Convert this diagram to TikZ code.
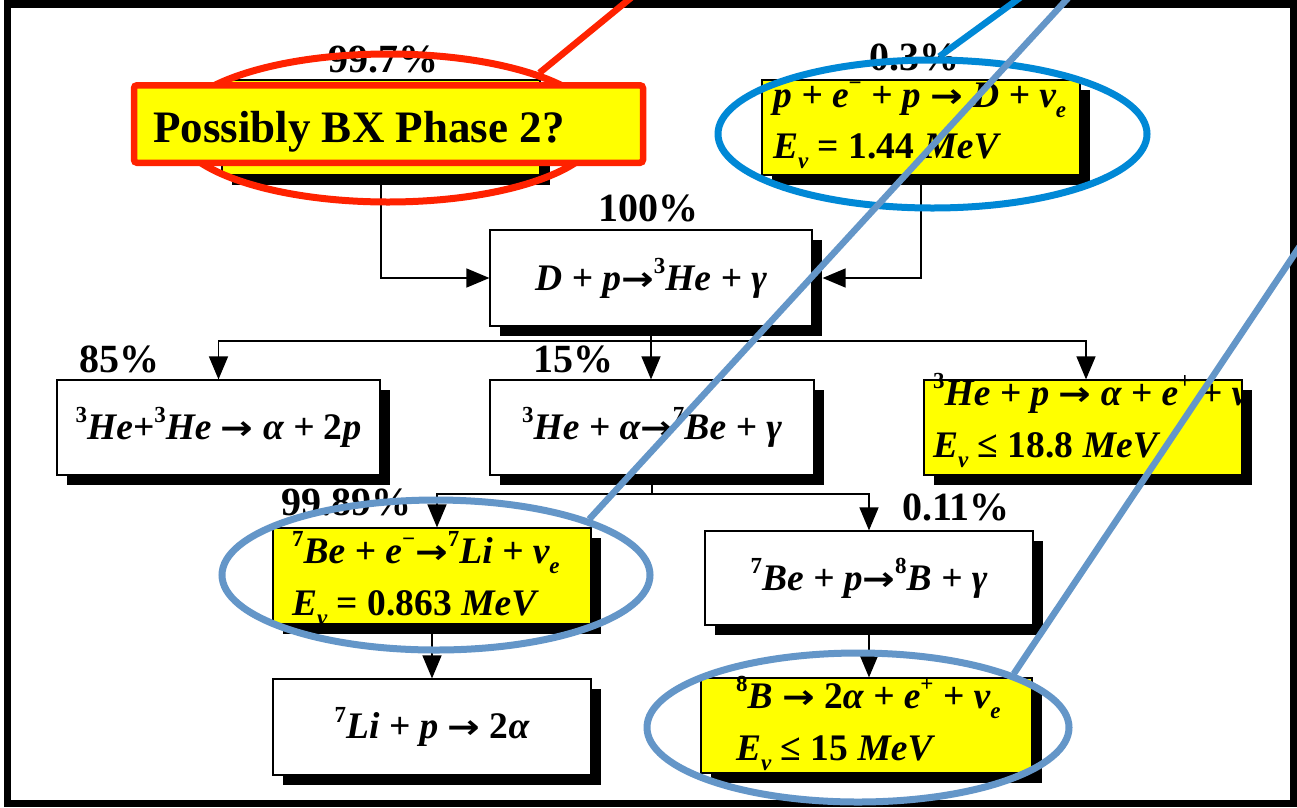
\documentclass[tikz,border=0pt]{standalone}
\usepackage{fontspec}
\setmainfont{Liberation Serif}
\newfontfamily\arrf{DejaVu Sans}
\usetikzlibrary{arrows.meta,shadows,shapes.geometric}
\definecolor{bxred}{RGB}{255,34,0}
\definecolor{bxblue}{RGB}{0,136,214}
\definecolor{bxlight}{RGB}{100,150,200}
\definecolor{bxyellow}{RGB}{255,255,0}
\newcommand{\eqf}{\fontsize{37.5}{42}\selectfont\bfseries\itshape}
\newcommand{\pctf}{\fontsize{40}{44}\selectfont\bfseries}
\newcommand{\lblf}{\fontsize{45}{50}\selectfont\bfseries}
\newcommand{\myup}[1]{\raisebox{0.45em}{\fontsize{23}{23}\selectfont\bfseries\upshape #1}}
\newcommand{\mydn}[1]{\raisebox{-0.28em}{\fontsize{23}{23}\selectfont\bfseries\itshape #1}}
\newcommand{\rarr}{{\arrf\bfseries\upshape\fontsize{39}{39}\selectfont\scalebox{1}[0.85]{→}}}
\begin{document}
\begin{tikzpicture}[x=1pt,y=-1pt,
  bx/.style={draw=black, line width=1.2pt, inner sep=0pt, font=\eqf,
     drop shadow={shadow xshift=10pt, shadow yshift=-10pt, fill=black, opacity=1}},
  wbox/.style={bx, fill=white},
  ybox/.style={bx, fill=bxyellow},
  pct/.style={font=\pctf, inner sep=0pt, anchor=base},
  eqt/.style={font=\eqf, inner sep=0pt, anchor=base west},
  conn/.style={line width=1.4pt, draw=black},
  arr/.style={conn, -{Triangle[length=23pt,width=19pt]}},
  ring/.style={draw, ellipse, line width=7pt, inner sep=0pt},
  pointer/.style={line width=6.5pt}
]
\useasboundingbox (0,0) rectangle (1297,807);
\fill[white] (0,0) rectangle (1297,807);
\draw[line width=7.5pt] (7.5,4) rectangle (1293.5,803.5);

% boxes
\node[ybox, minimum width=318pt, minimum height=95pt] (A) at (381,127.5) {};
\node[ybox, minimum width=318pt, minimum height=95pt] (B) at (921,127.5) {};
\node[wbox, minimum width=322pt, minimum height=96pt] (DP) at (651,278) {D + p\rarr\myup{3}He + γ};
\node[wbox, minimum width=323pt, minimum height=95pt] (HH) at (218.5,427.5) {\myup{3}He+\myup{3}He \rarr\ α + \textup{2}p};
\node[wbox, minimum width=324pt, minimum height=95pt] (HA) at (652,427.5) {\myup{3}He + α\rarr\myup{7}Be + γ};
\node[ybox, minimum width=318pt, minimum height=95pt] (HP) at (1083,427.5) {};
\node[ybox, minimum width=318pt, minimum height=96pt] (BE) at (432,576) {};
\node[wbox, minimum width=318pt, minimum height=96pt] (LI) at (432,727) {\myup{7}Li + p \rarr\ \textup{2}α};
\node[wbox, minimum width=328pt, minimum height=94pt] (BP) at (869,578) {\myup{7}Be + p\rarr\myup{8}B + γ};
\node[ybox, minimum width=331pt, minimum height=95pt] (B8) at (866.5,725.5) {};

% texts in yellow boxes
\node[eqt] (Bt1) at (773,107) {p + e\myup{−} + p \rarr\ D + ν\mydn{e}};
\node[eqt] (Bt2) at (773,158) {E\mydn{ν} \textup{= 1.44} MeV};
\begin{scope}
\clip ([yshift=20pt]HP.north west) rectangle (HP.south east);
\node[eqt] (HPt1) at (933,405) {\myup{3}He + p \rarr\ α + e\myup{+} + ν\mydn{e}};
\end{scope}
\node[eqt] (HPt2) at (933,457) {E\mydn{ν} \textup{≤ 18.8} MeV};
\node[eqt] (BEt1) at (292,563) {\myup{7}Be + e\myup{−}\rarr\myup{7}Li + ν\mydn{e}};
\node[eqt] (BEt2) at (292,615) {E\mydn{ν} \textup{= 0.863} MeV};
\node[eqt] (B8t1) at (736,708) {\myup{8}B \rarr\ \textup{2}α + e\myup{+} + ν\mydn{e}};
\node[eqt] (B8t2) at (736,760) {E\mydn{ν} \textup{≤ 15} MeV};

% connectors
\draw[arr] (A.south) |- (DP.west);
\draw[arr] (B.south) |- ([xshift=10pt]DP.east);
\coordinate (j1) at (651,341);
\draw[conn] (DP.south) -- (j1);
\draw[arr] (j1) -| (HH.north);
\draw[arr] (j1) -- (j1 |- HA.north);
\draw[arr] (j1) -| ([xshift=3pt]HP.north);
\coordinate (j2) at (652,494);
\draw[conn] (HA.south) -- (j2);
\draw[arr] (j2) -| ([xshift=5pt]BE.north);
\draw[arr] (j2) -| (BP.north);
\draw[arr] (BE.south) -- (BE.south |- LI.north);
\draw[arr] (BP.south) -- (BP.south |- B8.north);

% percentages
\node[pct] (p997) at (383,72) {99.7\%};
\node[pct] (p03) at (914,70) {0.3\%};
\node[pct] (p100) at (648.5,221) {100\%};
\node[pct] (p85) at (119.5,372) {85\%};
\node[pct] (p15) at (573,372) {15\%};
\node[pct] (p9989) at (346.5,515) {99.89\%};
\node[pct] (p011) at (956,520) {0.11\%};

% rings
\node[ring, draw=bxred, minimum width=424pt, minimum height=148pt] (redring) at (388,128) {};
\node[ring, draw=bxblue, minimum width=429pt, minimum height=148pt] (bluering) at (932.5,134) {};
\node[ring, draw=bxlight, minimum width=428pt, minimum height=150pt] (bering) at (436,575) {};
\node[ring, draw=bxlight, minimum width=422pt, minimum height=149pt] (bbring) at (858,727.5) {};

% label
\node[draw=bxred, fill=bxyellow, line width=6.5pt, rounded corners=3pt, minimum width=509pt, minimum height=77.5pt, inner sep=0pt] (lbl) at (388.5,124) {};
\node[font=\lblf, inner sep=0pt, anchor=base west] (lblt) at (153,142) {Possibly BX Phase 2?};

% pointers
\coordinate (redend) at (632,-3);
\coordinate (blueend) at (1021,-3);
\coordinate (lightend1) at (1069,-3);
\coordinate (lightend2) at (1310,231);
\draw[pointer, bxred] (redring.20) -- (redend);
\draw[pointer, bxblue] (bluering.85) -- (blueend);
\draw[pointer, bxlight] (bering.20) -- (lightend1);
\draw[pointer, bxlight] (bbring.19) -- (lightend2);
\end{tikzpicture}
\end{document}
